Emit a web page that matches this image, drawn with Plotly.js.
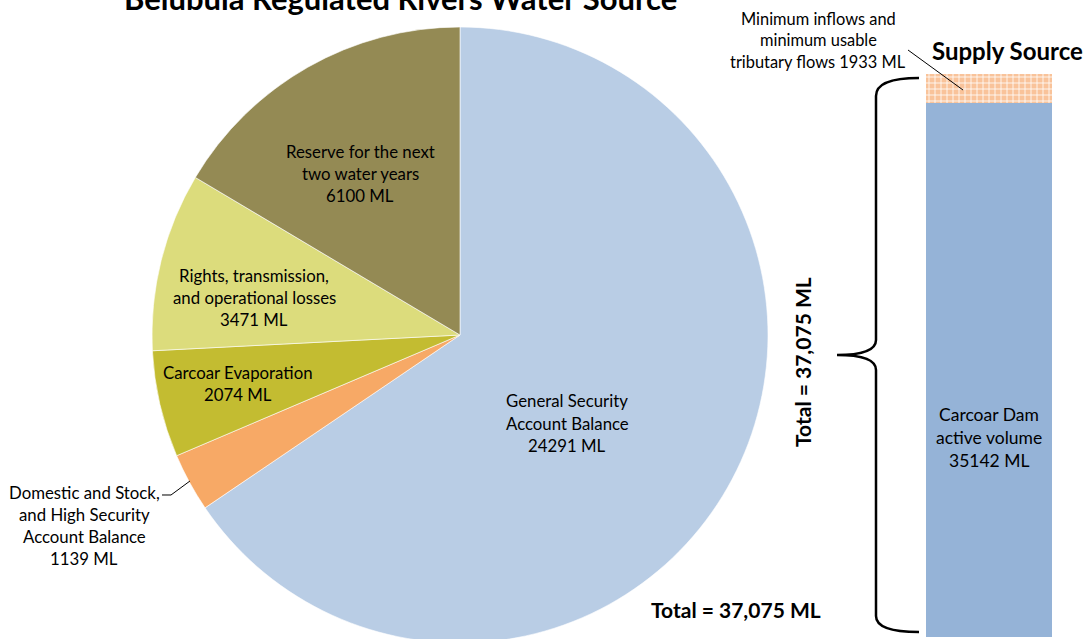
<!DOCTYPE html>
<html>
<head>
<meta charset="utf-8">
<script src="https://cdn.plot.ly/plotly-3.0.1.min.js"></script>
<style>
html,body{margin:0;padding:0;overflow:hidden;background:#fff;width:1088px;height:639px;}
#chart{width:1088px;height:660px;}
</style>
</head>
<body>
<div id="chart"></div>
<script>
// ---- Data ----
var pieLabels = ['General Security<br>Account Balance',
                 'Domestic and Stock,<br>and High Security<br>Account Balance',
                 'Carcoar Evaporation',
                 'Rights, transmission,<br>and operational losses',
                 'Reserve for the next<br>two water years'];
var pieValues = [24291, 1139, 2074, 3471, 6100];
var pieColors = ['#b9cde5', '#f7a966', '#c3bc31', '#dcdc7c', '#948a54'];

var supplyCategory = ['Supply Source'];
var supplyLabels = ['Carcoar Dam<br>active volume', 'Minimum inflows and<br>minimum usable<br>tributary flows'];
var supplyValues = [35142, 1933];

var totalText = 'Total = 37,075 ML';
var titleText = 'Belubula Regulated Rivers Water Source';

// ---- Geometry helpers (pixel -> paper) ----
var W = 1088, H = 660, MT = 27, MB = 17;
var PH = H - MT - MB;
function px(x){ return x / W; }
function py(y){ return 1 - (y - MT) / PH; }

var FONT = 'Lato, "Open Sans", sans-serif';

var traces = [
  {
    type: 'pie',
    labels: pieLabels,
    values: pieValues,
    sort: false,
    direction: 'clockwise',
    rotation: 0,
    textinfo: 'none',
    hoverinfo: 'skip',
    showlegend: false,
    marker: {colors: pieColors, line: {color: '#ffffff', width: 0.6}},
    domain: {x: [px(152), px(768)], y: [0, 1]}
  },
  {
    type: 'bar',
    x: supplyCategory,
    y: [supplyValues[0]],
    marker: {color: '#95b3d7', line: {width: 0}},
    hoverinfo: 'skip',
    showlegend: false,
    xaxis: 'x', yaxis: 'y'
  },
  {
    type: 'bar',
    x: supplyCategory,
    y: [supplyValues[1]],
    marker: {color: '#f9c7a0', line: {width: 0},
             pattern: {shape: '+', bgcolor: '#f9c39a', fgcolor: '#ffffff', size: 6, solidity: 0.25}},
    hoverinfo: 'skip',
    showlegend: false,
    xaxis: 'x', yaxis: 'y'
  }
];

var annotations = [];
function addLines(text, cx, cy0, spacing, size, bold, color){
  var lines = text.split('<br>');
  lines.forEach(function(l, i){
    annotations.push({
      xref: 'paper', yref: 'paper', x: px(cx), y: py(cy0 + i * spacing),
      xanchor: 'center', yanchor: 'middle', showarrow: false,
      text: bold ? '<b>' + l + '</b>' : l,
      font: {family: FONT, size: size, color: color || '#000000'}
    });
  });
}

// pie labels: [index, centre x, first line centre y]
var pieLabelPos = [[0, 567, 401], [1, 84, 492], [2, 238, 372], [3, 254, 275], [4, 360, 151]];
pieLabelPos.forEach(function(p){
  addLines(pieLabels[p[0]] + '<br>' + pieValues[p[0]] + ' ML', p[1], p[2], 22, 16.8, false);
});

// bar labels
addLines(supplyLabels[0] + '<br>' + supplyValues[0] + ' ML', 989, 414, 23, 17.5, false);
addLines(supplyLabels[1] + ' ' + supplyValues[1] + ' ML', 818, 18, 22, 16.4, false);

// titles
addLines(titleText, 400, -2, 0, 31, true);
addLines(supplyCategory[0], 1007, 50, 0, 24, true);

// totals
addLines(totalText, 736, 609, 0, 21, true);
annotations.push({
  xref: 'paper', yref: 'paper', x: px(803), y: py(362), xanchor: 'center', yanchor: 'middle',
  showarrow: false, textangle: -90, text: '<b>' + totalText + '</b>',
  font: {family: FONT, size: 21, color: '#000000'}
});

function P(x, y){ return px(x).toFixed(5) + ',' + py(y).toFixed(5); }
var bracePath = 'M' + P(919, 78) + ' Q' + P(876, 78) + ' ' + P(876, 96) +
  ' L' + P(876, 340) + ' Q' + P(876, 355) + ' ' + P(837, 355) +
  ' Q' + P(876, 355) + ' ' + P(876, 370) +
  ' L' + P(876, 616) + ' Q' + P(876, 632) + ' ' + P(919, 632);

var shapes = [
  {type: 'path', xref: 'paper', yref: 'paper', path: bracePath, line: {color: '#000000', width: 2.5}},
  {type: 'path', xref: 'paper', yref: 'paper',
   path: 'M' + P(162, 495) + ' L' + P(171, 495) + ' L' + P(190, 481), line: {color: '#000000', width: 1}},
  {type: 'line', xref: 'paper', yref: 'paper', x0: px(908), y0: py(50), x1: px(963), y1: py(90),
   line: {color: '#000000', width: 1}}
];

var layout = {
  width: W, height: H,
  margin: {l: 0, r: 0, t: MT, b: MB},
  paper_bgcolor: '#ffffff', plot_bgcolor: 'rgba(0,0,0,0)',
  barmode: 'stack', bargap: 0,
  showlegend: false,
  xaxis: {domain: [px(926), px(1052)], visible: false, fixedrange: true},
  yaxis: {domain: [py(637), py(74)], range: [0, supplyValues[0] + supplyValues[1]], visible: false, fixedrange: true},
  annotations: annotations,
  shapes: shapes
};

Plotly.newPlot('chart', traces, layout, {displayModeBar: false, staticPlot: true});
</script>
</body>
</html>
